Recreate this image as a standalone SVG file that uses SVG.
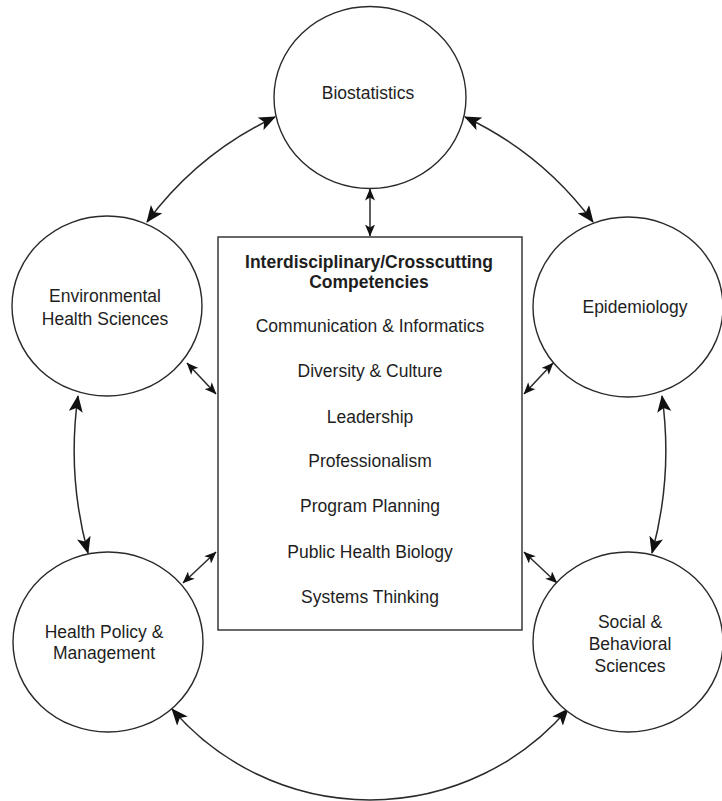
<svg xmlns="http://www.w3.org/2000/svg" width="722" height="801" viewBox="0 0 722 801">
<style>
.node{fill:#fff;stroke:#2a2a2a;stroke-width:1.4}
.lbl{font-family:"Liberation Sans",Arial,sans-serif;font-size:17.5px;fill:#1e1e1e;text-anchor:middle}
.bold{font-weight:bold;font-size:17.5px}
.conn{fill:none;stroke:#2a2a2a;stroke-width:1.5}
.big{marker-start:url(#ah);marker-end:url(#ah)}
.small{marker-start:url(#as);marker-end:url(#as)}
</style>
<defs>
<marker id="ah" viewBox="0 0 17 14" refX="16" refY="7" markerWidth="17" markerHeight="14" markerUnits="userSpaceOnUse" orient="auto-start-reverse">
<path d="M0,0 L17,7 L0,14 L4,7 z" fill="#111"/>
</marker>
<marker id="as" viewBox="0 0 12 10" refX="11.5" refY="5" markerWidth="12" markerHeight="10" markerUnits="userSpaceOnUse" orient="auto-start-reverse">
<path d="M0,0 L12,5 L0,10 L3,5 z" fill="#111"/>
</marker>
</defs>
<rect width="722" height="801" fill="#fff"/>
<g id="connectors">
<path class="conn big" d="M275 117 A 340 340 0 0 0 147 222"/>
<path class="conn big" d="M465 117 A 340 340 0 0 1 593 222"/>
<path class="conn big" d="M78 396 A 390 390 0 0 0 88 553"/>
<path class="conn big" d="M662 396 A 390 390 0 0 1 652 553"/>
<path class="conn big" d="M172 709 A 261 261 0 0 0 568 709"/>
<path class="conn small" d="M370 189 L370 236"/>
<path class="conn small" d="M187 363 L216 394"/>
<path class="conn small" d="M553 363 L524 394"/>
<path class="conn small" d="M183 583 L216 552"/>
<path class="conn small" d="M557 583 L524 552"/>
</g>
<g id="biostatistics">
<ellipse class="node" cx="370" cy="97.5" rx="96" ry="91"/>
<text class="lbl" x="368" y="99">Biostatistics</text>
</g>
<g id="environmental">
<ellipse class="node" cx="107" cy="306" rx="95" ry="90"/>
<text class="lbl" x="105" y="302">Environmental</text>
<text class="lbl" x="105" y="325">Health Sciences</text>
</g>
<g id="epidemiology">
<ellipse class="node" cx="628" cy="307" rx="95" ry="90"/>
<text class="lbl" x="635" y="313">Epidemiology</text>
</g>
<g id="health-policy">
<ellipse class="node" cx="108" cy="642" rx="95" ry="90"/>
<text class="lbl" x="104" y="638">Health Policy &amp;</text>
<text class="lbl" x="104" y="659">Management</text>
</g>
<g id="social">
<ellipse class="node" cx="628" cy="642" rx="95" ry="90"/>
<text class="lbl" x="630" y="628">Social &amp;</text>
<text class="lbl" x="630" y="650">Behavioral</text>
<text class="lbl" x="630" y="672">Sciences</text>
</g>
<g id="competencies">
<rect class="node" x="218" y="237" width="304" height="393"/>
<text class="lbl bold" x="369" y="268">Interdisciplinary/Crosscutting</text>
<text class="lbl bold" x="369" y="288">Competencies</text>
<text class="lbl" x="370" y="332">Communication &amp; Informatics</text>
<text class="lbl" x="370" y="377">Diversity &amp; Culture</text>
<text class="lbl" x="370" y="423">Leadership</text>
<text class="lbl" x="370" y="467">Professionalism</text>
<text class="lbl" x="370" y="512">Program Planning</text>
<text class="lbl" x="370" y="558">Public Health Biology</text>
<text class="lbl" x="370" y="603">Systems Thinking</text>
</g>
</svg>
